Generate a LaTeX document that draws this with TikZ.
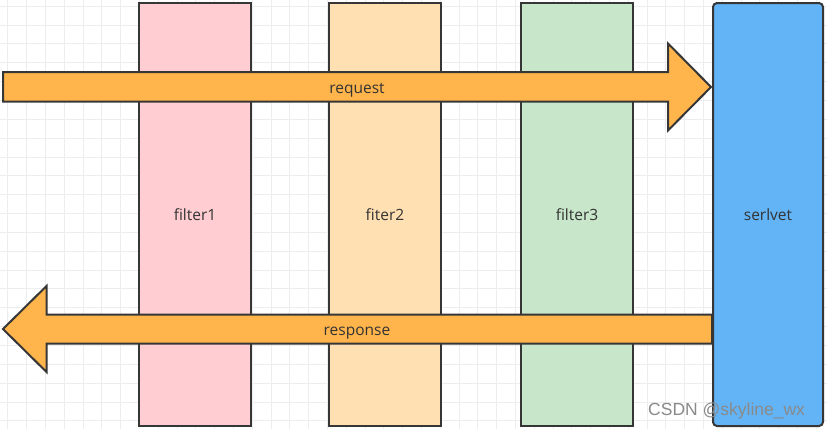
\documentclass[tikz,border=0pt]{standalone}
\usepackage{fontspec}
\setmainfont{Open Sans}
\newfontfamily\wmfont{Liberation Sans}
\definecolor{linec}{HTML}{363636}
\definecolor{gridc}{HTML}{EDEDED}
\definecolor{pinkc}{HTML}{FFCDD2}
\definecolor{peachc}{HTML}{FFE0B2}
\definecolor{greenc}{HTML}{C8E6C9}
\definecolor{bluec}{HTML}{63B4F6}
\definecolor{arrowc}{HTML}{FFB54C}
\definecolor{textc}{HTML}{333333}
\definecolor{wmc}{HTML}{8A8A8A}
\begin{document}
\begin{tikzpicture}[x=1pt,y=-1pt,
  stage/.style={draw=linec, line width=2pt, anchor=north west, inner sep=0pt,
    minimum width=112pt, minimum height=423pt},
  blockarrow/.style={draw=linec, fill=arrowc, line width=2pt, line join=miter},
  lbl/.style={text=textc, font=\fontsize{15.5}{17}\selectfont, inner sep=0pt, anchor=base}]
\useasboundingbox (0,0) rectangle (827,429);
\fill[white] (0,0) rectangle (827,429);
% grid
\foreach \i in {0,...,43} \draw[gridc, line width=1pt] ({7.9+\i*18.8},0) -- ({7.9+\i*18.8},429);
\foreach \j in {0,...,22} \draw[gridc, line width=1pt] (0,{6.2+\j*18.85}) -- (827,{6.2+\j*18.85});
% filters
\node[stage, fill=pinkc]  (f1) at (138,2) {};
\node[stage, fill=peachc] (f2) at (328,2) {};
\node[stage, fill=greenc] (f3) at (520,2) {};
\node[lbl] (f1l) at ([yshift=-6.3pt]f1.center) {filter1};
\node[lbl] (f2l) at ([yshift=-6.3pt]f2.center) {fiter2};
\node[lbl] (f3l) at ([yshift=-6.3pt]f3.center) {filter3};
% request arrow
\draw[blockarrow] (3,72) -- (668,72) -- (668,43.5) -- (711,87) -- (668,130.5) -- (668,101.5) -- (3,101.5) -- cycle;
\node[lbl] (req) at (357,93.3) {request};
% response arrow
\draw[blockarrow] (712,314.5) -- (46.5,314.5) -- (46.5,286) -- (3,329) -- (46.5,372) -- (46.5,343.5) -- (712,343.5) -- cycle;
\node[lbl] (resp) at (357,335.3) {response};
% servlet
\node[stage, fill=bluec, minimum width=110pt, rounded corners=4pt] (sv) at (712,2) {};
\node[lbl] (svl) at ([yshift=-6.3pt]sv.center) {serlvet};
% watermark
\node[anchor=base west, inner sep=0pt, text=wmc, font=\wmfont\fontsize{17.5}{19}\selectfont] (wm) at (648,415) {CSDN @skyline\_wx};
\end{tikzpicture}
\end{document}
